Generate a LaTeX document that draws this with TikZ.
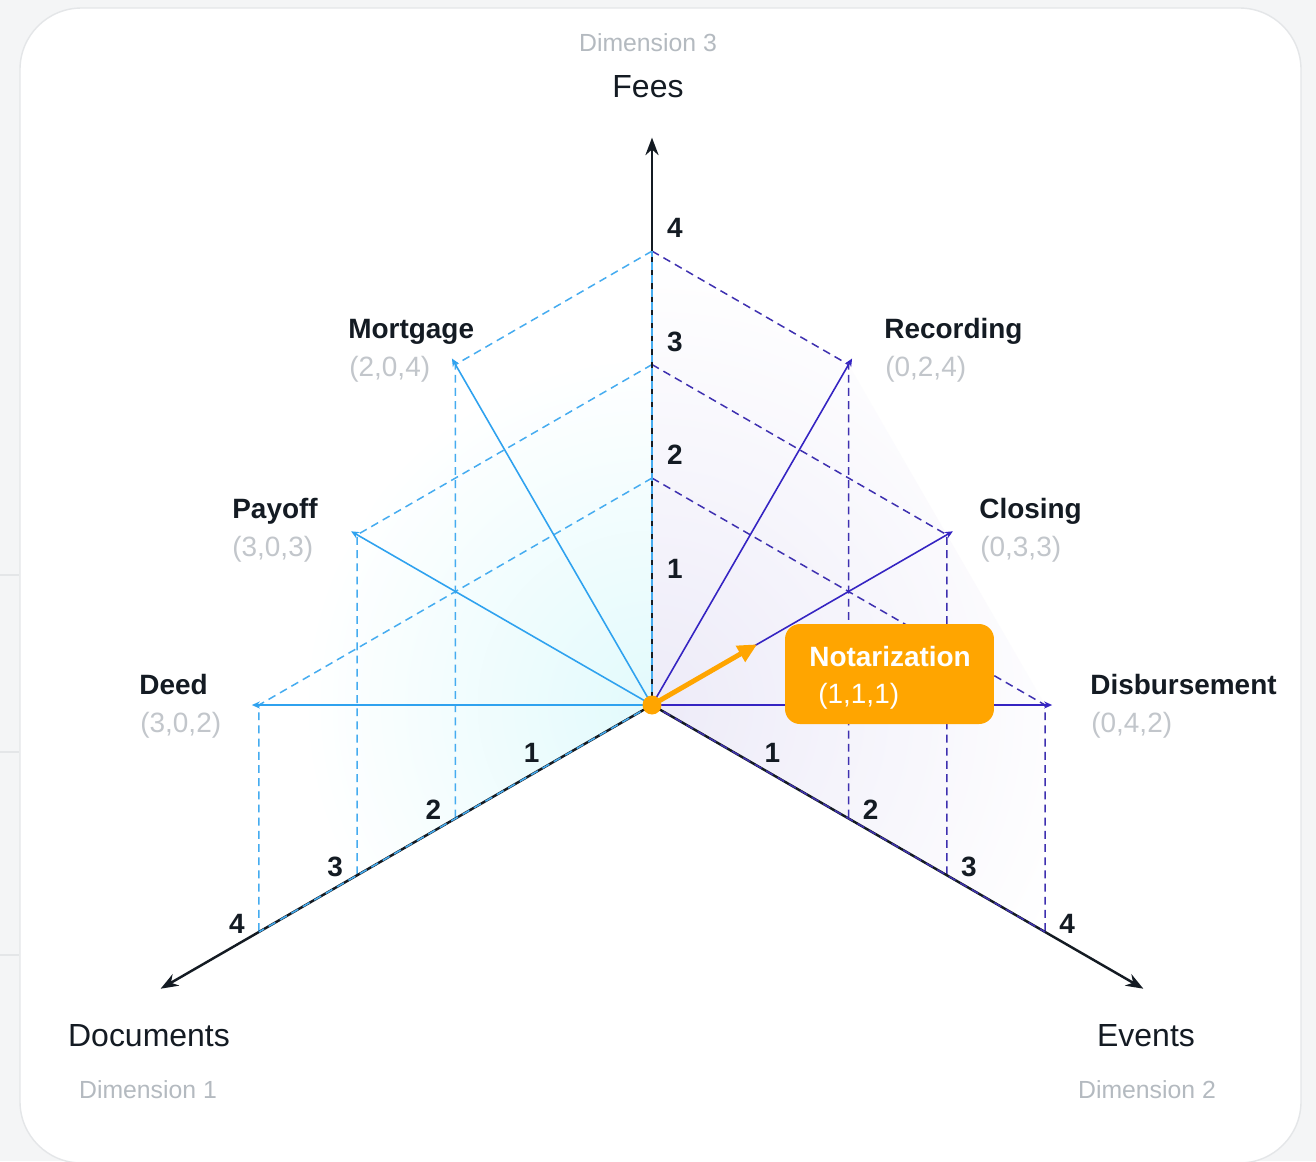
\documentclass[tikz,border=0pt]{standalone}
\usepackage{fontspec}
\setmainfont{Liberation Sans}
\usetikzlibrary{arrows.meta}

\definecolor{ink}{HTML}{141B23}
\definecolor{mist}{HTML}{C2C6CB}
\definecolor{fog}{HTML}{B4BAC0}
\definecolor{docblue}{HTML}{2FA2EF}
\definecolor{docdash}{HTML}{45ACF0}
\definecolor{evtviolet}{HTML}{3524C2}
\definecolor{evtdash}{HTML}{3E30B0}
\definecolor{notary}{HTML}{FFA500}
\definecolor{paper}{HTML}{F4F5F6}
\definecolor{cardline}{HTML}{E4E6E8}
\definecolor{leftglow}{HTML}{E2FAFC}
\definecolor{rightglow}{HTML}{EDEBF8}

\def\unit{2.27}

\tikzset{
  axisline/.style={draw=ink, line width=1.4pt, -{Stealth[length=10pt,width=7.5pt]}},
  leftvec/.style={draw=docblue, line width=0.9pt, -{Stealth[length=4.5pt,width=4pt]}, shorten >=-4pt},
  rightvec/.style={draw=evtviolet, line width=0.9pt, -{Stealth[length=4.5pt,width=4pt]}, shorten >=-4pt},
  leftdash/.style={draw=docdash, line width=0.85pt, dash pattern=on 4.5pt off 3pt},
  rightdash/.style={draw=evtdash, line width=0.85pt, dash pattern=on 4.5pt off 3pt},
  ptname/.style={anchor=base west, inner sep=0pt, text=ink, font=\bfseries\fontsize{15.9}{18}\selectfont},
  ptcoord/.style={anchor=base west, inner sep=0pt, text=mist, font=\fontsize{15.9}{18}\selectfont},
  axisname/.style={anchor=base, inner sep=0pt, text=ink, font=\fontsize{18.2}{21}\selectfont},
  dimname/.style={anchor=base, inner sep=0pt, text=fog, font=\fontsize{14.1}{16}\selectfont},
  ticknum/.style={inner sep=0pt, text=ink, font=\bfseries\fontsize{15.9}{18}\selectfont},
}

\begin{document}
\begin{tikzpicture}[x=0.02cm, y=-0.02cm]
  % page and card
  \useasboundingbox (0,0) rectangle (1316,1161);
  \fill[paper] (0,0) rectangle (1316,1161);
  \foreach \y in {575,752,955}
    \draw[cardline, line width=0.9pt] (0,\y) -- (19,\y);
  \draw[fill=white, draw=cardline, line width=0.8pt, rounded corners=35pt] (20,8) rectangle (1301,1163);

  \begin{scope}[shift={(652,705)},
      x={({-0.866*\unit*1cm},{-0.5*\unit*1cm})},
      y={({0.866*\unit*1cm},{-0.5*\unit*1cm})},
      z={(0cm,{\unit*1cm})}]
    \coordinate (O) at (0,0,0);
    \foreach \k in {1,...,5} {
      \coordinate (d\k) at (\k,0,0);
      \coordinate (e\k) at (0,\k,0);
      \coordinate (f\k) at (0,0,\k);
    }
    \coordinate (mortgage) at (2,0,4);
    \coordinate (payoff) at (3,0,3);
    \coordinate (deed) at (4,0,2);
    \coordinate (recording) at (0,2,4);
    \coordinate (closing) at (0,3,3);
    \coordinate (disburse) at (0,4,2);
    \coordinate (noteTip) at (0,1.07,1.07);

    % soft glow on both walls
    \begin{scope}
      \clip (O) -- (f4) -- (mortgage) -- (payoff) -- (deed) -- (d4) -- cycle;
      \shade[inner color=leftglow, outer color=white] (O) circle (7cm);
    \end{scope}
    \begin{scope}
      \clip (O) -- (f4) -- (recording) -- (closing) -- (disburse) -- (e4) -- cycle;
      \shade[inner color=rightglow, outer color=white] (O) circle (9cm);
    \end{scope}

    % guide lines
    \draw[leftdash] (f4) -- (mortgage) -- (d2);
    \draw[leftdash] (f3) -- (payoff) -- (d3);
    \draw[leftdash] (f2) -- (deed) -- (d4);
    \draw[rightdash] (f4) -- (recording) -- (e2);
    \draw[rightdash] (f3) -- (closing) -- (e3);
    \draw[rightdash] (f2) -- (disburse) -- (e4);

    % axes
    \draw[axisline] (O) -- (f5);
    \draw[axisline] (O) -- (d5);
    \draw[axisline] (O) -- (e5);
    \draw[leftdash] (O) -- (f4);
    \draw[leftdash] (O) -- (d4);
    \draw[rightdash] (O) -- (e4);

    \foreach \k in {1,...,4} {
      \node[ticknum, xshift=0.46cm, yshift=0.46cm] (tf\k) at (f\k) {\k};
      \node[ticknum, xshift=-0.44cm, yshift=0.17cm] (td\k) at (d\k) {\k};
      \node[ticknum, xshift=0.44cm, yshift=0.17cm] (te\k) at (e\k) {\k};
    }

    % vectors
    \draw[leftvec] (O) -- (mortgage);
    \draw[leftvec] (O) -- (payoff);
    \draw[leftvec] (O) -- (deed);
    \draw[rightvec] (O) -- (recording);
    \draw[rightvec] (O) -- (closing);
    \draw[rightvec] (O) -- (disburse);

    \draw[notary, line width=2.8pt, -{Triangle[length=11pt,width=10pt]}] (O) -- (noteTip);
    \node[circle, fill=notary, minimum size=10.8pt, inner sep=0pt] (dot) at (O) {};
  \end{scope}

  % callout
  \node[fill=notary, rounded corners=8.5pt, minimum width=4.18cm, minimum height=2cm, inner sep=0pt] (note) at (889.5,674) {};
  \node[ptname, text=white] (noteT) at (809,666) {Notarization};
  \node[ptcoord, text=white] (noteC) at (818,703) {(1,1,1)};

  % axis names
  \node[dimname] (dim3) at (648,51) {Dimension 3};
  \node[axisname] (fees) at (648,97) {Fees};
  \node[axisname] (documents) at (149,1046) {Documents};
  \node[dimname] (dim1) at (148,1098) {Dimension 1};
  \node[axisname] (events) at (1146,1046) {Events};
  \node[dimname] (dim2) at (1147,1098) {Dimension 2};

  % point labels
  \node[ptname] (mortgageT) at (348,338) {Mortgage};
  \node[ptcoord] (mortgageC) at (349,376) {(2,0,4)};
  \node[ptname] (payoffT) at (232,518) {Payoff};
  \node[ptcoord] (payoffC) at (232,556) {(3,0,3)};
  \node[ptname] (deedT) at (139,694) {Deed};
  \node[ptcoord] (deedC) at (140,732) {(3,0,2)};
  \node[ptname] (recordingT) at (884,338) {Recording};
  \node[ptcoord] (recordingC) at (885,376) {(0,2,4)};
  \node[ptname] (closingT) at (979,518) {Closing};
  \node[ptcoord] (closingC) at (980,556) {(0,3,3)};
  \node[ptname] (disburseT) at (1090,694) {Disbursement};
  \node[ptcoord] (disburseC) at (1091,732) {(0,4,2)};
\end{tikzpicture}
\end{document}
